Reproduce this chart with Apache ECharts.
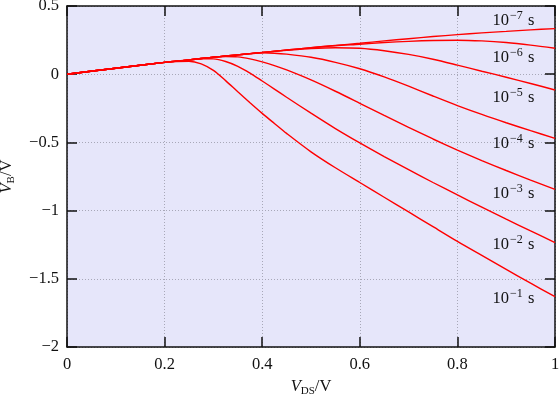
<!DOCTYPE html>
<html>
<head>
<meta charset="UTF-8">
<title>VB vs VDS</title>
<script src="https://cdn.jsdelivr.net/npm/echarts@6/dist/echarts.min.js"></script>
<style>
  * { margin: 0; padding: 0; }
  body { background: #fff; }
  #main { width: 559px; height: 397px; }
</style>
</head>
<body>
<div id="main"></div>
<script>
// x samples (V_DS / V)
var xs = [0, 0.1, 0.2, 0.25, 0.275, 0.3, 0.325, 0.35, 0.375, 0.4, 0.425, 0.45, 0.5, 0.55, 0.6, 0.65, 0.7, 0.75, 0.8, 0.85, 0.9, 0.95, 1.0];

// V_B for each time
var vb_1e7 = [0, 0.044, 0.087, 0.105, 0.115, 0.124, 0.133, 0.142, 0.151, 0.159, 0.168, 0.177, 0.194, 0.211, 0.227, 0.244, 0.26, 0.276, 0.29, 0.303, 0.314, 0.325, 0.334];
var vb_1e6 = [0, 0.044, 0.087, 0.105, 0.115, 0.124, 0.133, 0.142, 0.151, 0.159, 0.168, 0.177, 0.194, 0.209, 0.22, 0.232, 0.241, 0.247, 0.249, 0.244, 0.232, 0.213, 0.19];
var vb_1e5 = [0, 0.044, 0.087, 0.105, 0.115, 0.124, 0.133, 0.142, 0.151, 0.159, 0.167, 0.175, 0.188, 0.194, 0.19, 0.172, 0.145, 0.11, 0.067, 0.022, -0.022, -0.068, -0.116];
var vb_1e4 = [0, 0.044, 0.087, 0.105, 0.115, 0.124, 0.133, 0.142, 0.150, 0.156, 0.154, 0.147, 0.124, 0.087, 0.04, -0.02, -0.088, -0.16, -0.23, -0.295, -0.356, -0.414, -0.47];
var vb_1e3 = [0, 0.044, 0.087, 0.105, 0.115, 0.124, 0.130, 0.127, 0.112, 0.09, 0.063, 0.031, -0.042, -0.125, -0.213, -0.302, -0.39, -0.475, -0.556, -0.633, -0.706, -0.776, -0.844];
var vb_1e2 = [0, 0.044, 0.087, 0.105, 0.113, 0.112, 0.093, 0.058, 0.008, -0.05, -0.109, -0.169, -0.286, -0.399, -0.504, -0.604, -0.70, -0.794, -0.885, -0.974, -1.062, -1.149, -1.234];
var vb_1e1 = [0, 0.044, 0.087, 0.095, 0.076, 0.028, -0.047, -0.129, -0.209, -0.287, -0.361, -0.434, -0.569, -0.686, -0.794, -0.902, -1.01, -1.118, -1.226, -1.329, -1.431, -1.532, -1.631];

var curves = [vb_1e7, vb_1e6, vb_1e5, vb_1e4, vb_1e3, vb_1e2, vb_1e1];

// curve labels: exponent and where the label sits (data coords)
var labelExp = ['−7', '−6', '−5', '−4', '−3', '−2', '−1'];
var labelX = 0.872;
var labelY = [0.39, 0.122, -0.170, -0.512, -0.875, -1.252, -1.648];

var serif = 'Liberation Serif';
var black = '#111';

function fmtNum(v) {
    var r = Math.round(v * 10) / 10;
    return r < 0 ? '−' + Math.abs(r) : String(r);
}

var series = [];
for (var k = 0; k < curves.length; k++) {
    var pts = [];
    for (var i = 0; i < xs.length; i++) {
        pts.push([xs[i], curves[k][i]]);
    }
    series.push({
        type: 'line',
        data: pts,
        smooth: 0.3,
        showSymbol: false,
        lineStyle: { color: '#ff0000', width: 1.4 },
        z: 3
    });
}

var labelPts = [];
for (var j = 0; j < labelExp.length; j++) {
    labelPts.push({ value: [labelX, labelY[j]], exp: labelExp[j] });
}
series.push({
    type: 'scatter',
    data: labelPts,
    symbolSize: 0,
    silent: true,
    z: 5,
    label: {
        show: true,
        position: 'right',
        distance: 0,
        color: black,
        opacity: 1,
        textBorderWidth: 0,
        formatter: function (p) {
            return '{n|10}{sup|' + p.data.exp + '}{n| s}';
        },
        rich: {
            n: { fontFamily: serif, fontSize: 16.5, color: black, lineHeight: 22 },
            sup: { fontFamily: serif, fontSize: 12, color: black, verticalAlign: 'top', lineHeight: 12, padding: [0, 1, 0, 1] }
        }
    }
});

var nameRich = {
    i: { fontFamily: serif, fontStyle: 'italic', fontSize: 16.5, color: black, lineHeight: 20 },
    sub: { fontFamily: serif, fontSize: 11, color: black, verticalAlign: 'bottom', lineHeight: 13 },
    n: { fontFamily: serif, fontSize: 16.5, color: black, lineHeight: 20 }
};

var gridLine = { show: true, lineStyle: { color: '#a8a8b8', width: 1, type: [1, 2] } };
var tickStyle = { show: true, inside: true, length: 10, lineStyle: { color: black, width: 1.5 } };
var lineStyleAxis = { show: true, onZero: false, lineStyle: { color: black, width: 1.5 } };

var myChart = echarts.init(document.getElementById('main'));
myChart.setOption({
    animation: false,
    grid: {
        left: 67, right: 4, top: 6, bottom: 50,
        containLabel: false,
        outerBoundsMode: 'none',
        show: true, backgroundColor: '#e6e6fa', borderWidth: 0
    },
    xAxis: [{
        type: 'value', min: 0, max: 1, interval: 0.2,
        axisLine: lineStyleAxis,
        axisTick: tickStyle,
        splitLine: gridLine,
        axisLabel: { fontFamily: serif, fontSize: 16.5, color: black, margin: 9, formatter: fmtNum },
        name: '{i|V}{sub|DS}{n|/V}',
        nameLocation: 'middle',
        nameGap: 29,
        nameTextStyle: { rich: nameRich }
    }, {
        type: 'value', min: 0, max: 1, interval: 0.2, position: 'top',
        axisLine: lineStyleAxis,
        axisTick: tickStyle,
        splitLine: { show: false },
        axisLabel: { show: false }
    }],
    yAxis: [{
        type: 'value', min: -2, max: 0.5, interval: 0.5,
        axisLine: lineStyleAxis,
        axisTick: tickStyle,
        splitLine: gridLine,
        axisLabel: { fontFamily: serif, fontSize: 16.5, color: black, margin: 8, formatter: fmtNum },
        name: '{i|V}{sub|B}{n|/V}',
        nameLocation: 'middle',
        nameRotate: 90,
        nameGap: 50,
        nameTextStyle: { rich: nameRich }
    }, {
        type: 'value', min: -2, max: 0.5, interval: 0.5, position: 'right',
        axisLine: lineStyleAxis,
        axisTick: tickStyle,
        splitLine: { show: false },
        axisLabel: { show: false }
    }],
    series: series
});
</script>
</body>
</html>
